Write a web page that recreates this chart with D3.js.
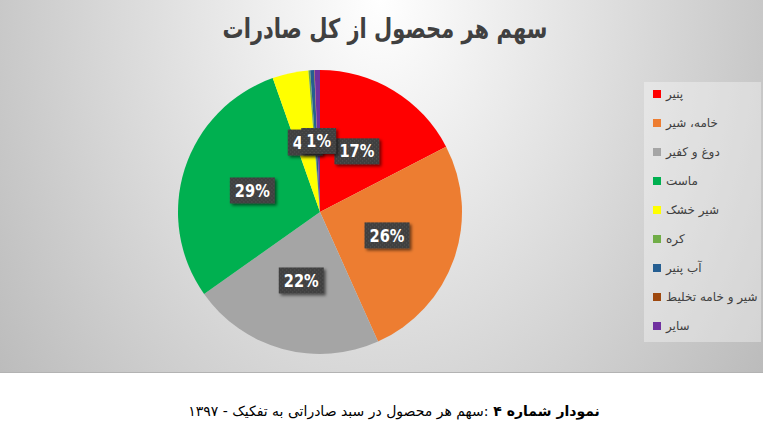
<!DOCTYPE html>
<html>
<head>
<meta charset="utf-8">
<script src="https://cdn.jsdelivr.net/npm/d3@7"></script>
<style>
	body { margin: 0; background: #fff; }
	svg { display: block; font-family: "DejaVu Sans", sans-serif; }
</style>
</head>
<body>
<div id="chart"></div>
<script>
var categories = ["پنیر", "خامه، شیر", "دوغ و کفیر", "ماست", "شیر خشک", "کره", "آب پنیر", "شیر و خامه تخلیط", "سایر"];
var shares = [17.4, 25.9, 21.9, 29.4, 4.1, 0.2, 0.45, 0.05, 0.6];
var colors = ["#ff0000", "#ed7d31", "#a5a5a5", "#00b050", "#ffff00", "#70ad47", "#255e91", "#9e480e", "#7030a0"];
var title = "سهم هر محصول از کل صادرات";
var captionBold = "نمودار شماره ۴ ";
var captionRest = ":سهم هر محصول در سبد صادراتی به تفکیک - ۱۳۹۷";

var width = 763, height = 437;
var cx = 320, cy = 212, radius = 142;

var svg = d3.select("#chart").append("svg")
	.attr("width", width)
	.attr("height", height)

var defs = svg.append("defs")

var bg = defs.append("radialGradient")
	.attr("id", "bg")
	.attr("gradientUnits", "userSpaceOnUse")
	.attr("cx", 380).attr("cy", 0).attr("r", 487)
	.attr("gradientTransform", "translate(380,0) scale(1,1.37) translate(-380,0)")
bg.append("stop").attr("offset", 0).attr("stop-color", "#ffffff")
bg.append("stop").attr("offset", 1).attr("stop-color", "#b9b9b9")

var dots = defs.append("pattern")
	.attr("id", "dots")
	.attr("width", 4).attr("height", 4)
	.attr("patternUnits", "userSpaceOnUse")
dots.append("rect").attr("width", 4).attr("height", 4).attr("fill", "#404040")
dots.append("rect").attr("x", 1).attr("y", 1).attr("width", 1).attr("height", 1).attr("fill", "#565656")
dots.append("rect").attr("x", 3).attr("y", 3).attr("width", 1).attr("height", 1).attr("fill", "#565656")

var shadow = defs.append("filter")
	.attr("id", "shadow")
	.attr("x", "-30%").attr("y", "-30%").attr("width", "160%").attr("height", "160%")
shadow.append("feDropShadow")
	.attr("dx", 2).attr("dy", 2).attr("stdDeviation", 1.8)
	.attr("flood-color", "#000").attr("flood-opacity", 0.55)

// chart area
svg.append("rect")
	.attr("width", width)
	.attr("height", 372)
	.attr("fill", "url(#bg)")
svg.append("line")
	.attr("x1", 0).attr("x2", width)
	.attr("y1", 372.5).attr("y2", 372.5)
	.attr("stroke", "#b3b3b3")

// title, squeezed to the width it has in the original
var titleText = svg.append("text")
	.attr("text-anchor", "middle")
	.attr("direction", "rtl")
	.style("font-size", "27px")
	.style("font-weight", "bold")
	.attr("fill", "#404040")
	.text(title)
var tw = titleText.node().getComputedTextLength();
titleText.attr("transform", "translate(385,38) scale(" + (325 / tw) + ",1)")

var total = d3.sum(shares);
var pie = d3.pie().sort(null).value(function (d) { return d; });
var arcs = pie(shares);
var arc = d3.arc().innerRadius(0).outerRadius(radius);
var labelArc = d3.arc().innerRadius(radius * 0.5).outerRadius(radius * 0.5);

var g = svg.append("g").attr("transform", "translate(" + cx + "," + cy + ")")

g.selectAll(".slice")
	.data(arcs)
	.enter()
	.append("path")
	.attr("class", "slice")
	.attr("d", arc)
	.attr("fill", function (d, i) { return colors[i]; })

var labeled = arcs.filter(function (d) { return Math.round(d.data / total * 100) >= 1; });

var lab = g.selectAll(".label")
	.data(labeled)
	.enter()
	.append("g")
	.attr("class", "label")
	.attr("transform", function (d) {
		var c = labelArc.centroid(d);
		return "translate(" + c[0] + "," + c[1] + ")";
	})

lab.append("rect")
	.attr("fill", "url(#dots)")
	.attr("filter", "url(#shadow)")

var squeeze = 0.86;
var txt = lab.append("text")
	.attr("text-anchor", "middle")
	.attr("dy", "0.36em")
	.attr("transform", "scale(" + squeeze + ",1)")
	.attr("fill", "#ffffff")
	.style("font-size", "17px")
	.style("font-weight", "bold")
	.text(function (d) { return Math.round(d.data / total * 100) + "%"; })

txt.each(function (d) {
	var w = this.getComputedTextLength() * squeeze + 10;
	d3.select(this.parentNode).select("rect")
		.attr("x", -w / 2).attr("y", -13)
		.attr("width", w).attr("height", 26)
})

// legend
var legend = svg.append("g")
legend.append("rect")
	.attr("x", 644).attr("y", 82)
	.attr("width", 117).attr("height", 260)
	.attr("fill", "#ffffff")
	.attr("fill-opacity", 0.35)

var item = legend.selectAll(".item")
	.data(categories)
	.enter()
	.append("g")
	.attr("class", "item")
	.attr("transform", function (d, i) { return "translate(653," + (94 + i * 29) + ")"; })

item.append("rect")
	.attr("x", 0).attr("y", -4)
	.attr("width", 8).attr("height", 8)
	.attr("fill", function (d, i) { return colors[i]; })

item.append("text")
	.attr("x", 13)
	.attr("dy", "0.35em")
	.attr("fill", "#404040")
	.style("font-size", "12px")
	.text(function (d) { return d; })

var cap = svg.append("text")
	.attr("x", 394)
	.attr("y", 416)
	.attr("text-anchor", "middle")
	.attr("direction", "rtl")
	.attr("fill", "#000")
	.style("font-size", "14px")
cap.append("tspan").style("font-weight", "bold").text(captionBold)
cap.append("tspan").text(captionRest)
</script>
</body>
</html>
